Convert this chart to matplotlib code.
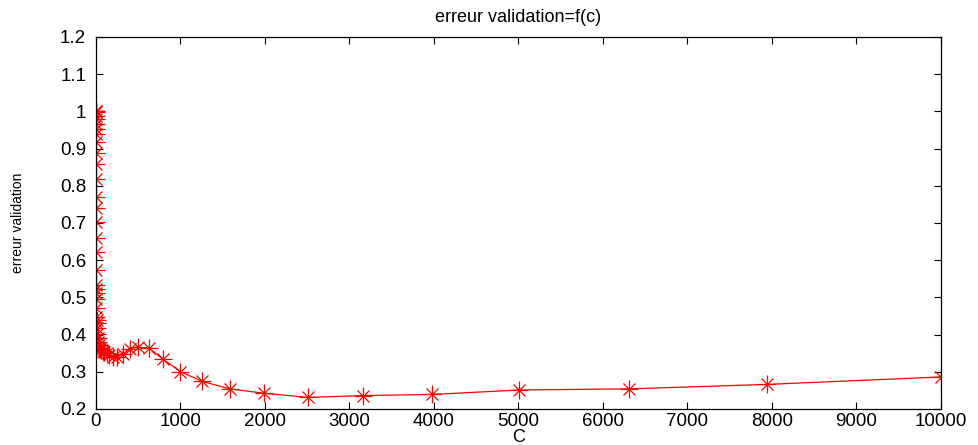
import matplotlib
matplotlib.use("Agg")
import matplotlib.pyplot as plt

C = [0.0316, 0.0398, 0.0501, 0.0631, 0.0794, 0.1, 0.126, 0.158, 0.2, 0.251,
     0.316, 0.398, 0.501, 0.631, 0.794, 1.0, 1.26, 1.58, 2.0, 2.51,
     3.16, 3.98, 5.01, 6.31, 7.94, 10.0, 12.6, 15.8, 20.0, 25.1,
     31.6, 39.8, 50.1, 63.1, 79.4, 100, 126, 158, 200, 251,
     316, 398, 501, 631, 794, 1000, 1259, 1585, 1995, 2512,
     3162, 3981, 5012, 6310, 7943, 10000]
erreur = [1.0, 1.0, 0.997, 0.988, 0.979, 0.966, 0.952, 0.939, 0.918, 0.889,
          0.859, 0.819, 0.770, 0.741, 0.703, 0.660, 0.621, 0.574, 0.533, 0.522,
          0.511, 0.495, 0.471, 0.448, 0.439, 0.430, 0.417, 0.402, 0.390, 0.381,
          0.372, 0.365, 0.360, 0.358, 0.356, 0.354, 0.350, 0.345, 0.340, 0.341,
          0.347, 0.362, 0.366, 0.363, 0.334, 0.300, 0.274, 0.254, 0.242, 0.231,
          0.236, 0.239, 0.251, 0.254, 0.266, 0.286]

xticks = [0, 1000, 2000, 3000, 4000, 5000, 6000, 7000, 8000, 9000, 10000]
yticks = [0.2, 0.3, 0.4, 0.5, 0.6, 0.7, 0.8, 0.9, 1.0, 1.1, 1.2]
ytick_labels = ["0.2", "0.3", "0.4", "0.5", "0.6", "0.7", "0.8", "0.9", "1", "1.1", "1.2"]

plt.rcParams['font.family'] = ['Liberation Sans', 'DejaVu Sans']

fig = plt.figure(figsize=(9.79, 4.45), dpi=100)
ax = fig.add_axes([0.098, 0.081, 0.863, 0.836])

ax.plot(C, erreur, color='red', lw=0.9, marker='+', ms=13, mew=0.9)
ax.plot(C, erreur, color='red', lw=0, marker='x', ms=8, mew=0.9)

ax.set_xlim(0, 10000)
ax.set_ylim(0.2, 1.2)
ax.set_xticks(xticks)
ax.set_xticklabels([str(t) for t in xticks])
ax.set_yticks(yticks)
ax.set_yticklabels(ytick_labels)
ax.tick_params(direction='in', top=True, right=True, length=5, width=0.8,
               labelsize=13.5)
ax.tick_params(axis='y', pad=7)
ax.tick_params(axis='x', pad=3)
for s in ax.spines.values():
    s.set_linewidth(0.9)

ax.set_title("erreur validation=f(c)", fontsize=13, pad=11)
ax.set_xlabel("C", fontsize=13, labelpad=-1)
ax.set_ylabel("erreur validation", fontsize=10)
ax.yaxis.set_label_coords(-0.084, 0.5)

fig.savefig("out.png", dpi=100)
